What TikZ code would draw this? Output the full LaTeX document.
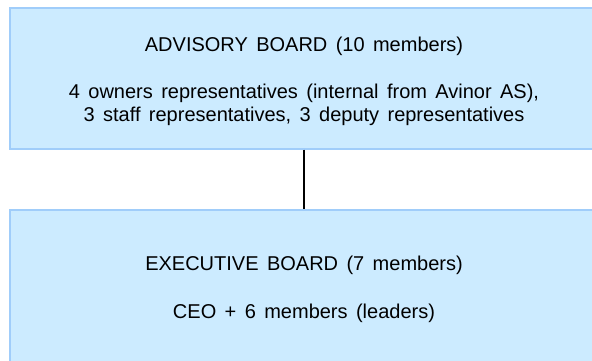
\documentclass[tikz,border=0pt]{standalone}
\usepackage{fontspec}
\setmainfont{Liberation Sans}
\usepackage{tikz}
\usetikzlibrary{positioning}

\definecolor{boardfill}{RGB}{204,235,255}
\definecolor{boardedge}{RGB}{160,205,250}
\newcommand{\boardfont}{\fontsize{20}{22.6}\selectfont\spaceskip=8.4pt\relax}

\tikzset{
  boardbox/.style={draw=boardedge, fill=boardfill, line width=1.2pt,
    minimum width=588pt, align=center, inner sep=0pt, font=\boardfont},
}

\begin{document}
\begin{tikzpicture}[x=1pt,y=1pt]
  \useasboundingbox (0,0) rectangle (592,-360);
  \node[boardbox, minimum height=141pt] (advisory) at (304,-78.5)
    {\rule{0pt}{19.6pt}ADVISORY BOARD (10 members)\\[25pt]
     4 owners representatives (internal from Avinor AS),\\
     3 staff representatives, 3 deputy representatives};
  \node[boardbox, minimum height=159.6pt] (executive) at (304,-289.8)
    {EXECUTIVE BOARD (7 members)\\[25.4pt]
     CEO + 6 members (leaders)};
  \draw[line width=1.2pt] (advisory.south) -- (executive.north);
\end{tikzpicture}
\end{document}
